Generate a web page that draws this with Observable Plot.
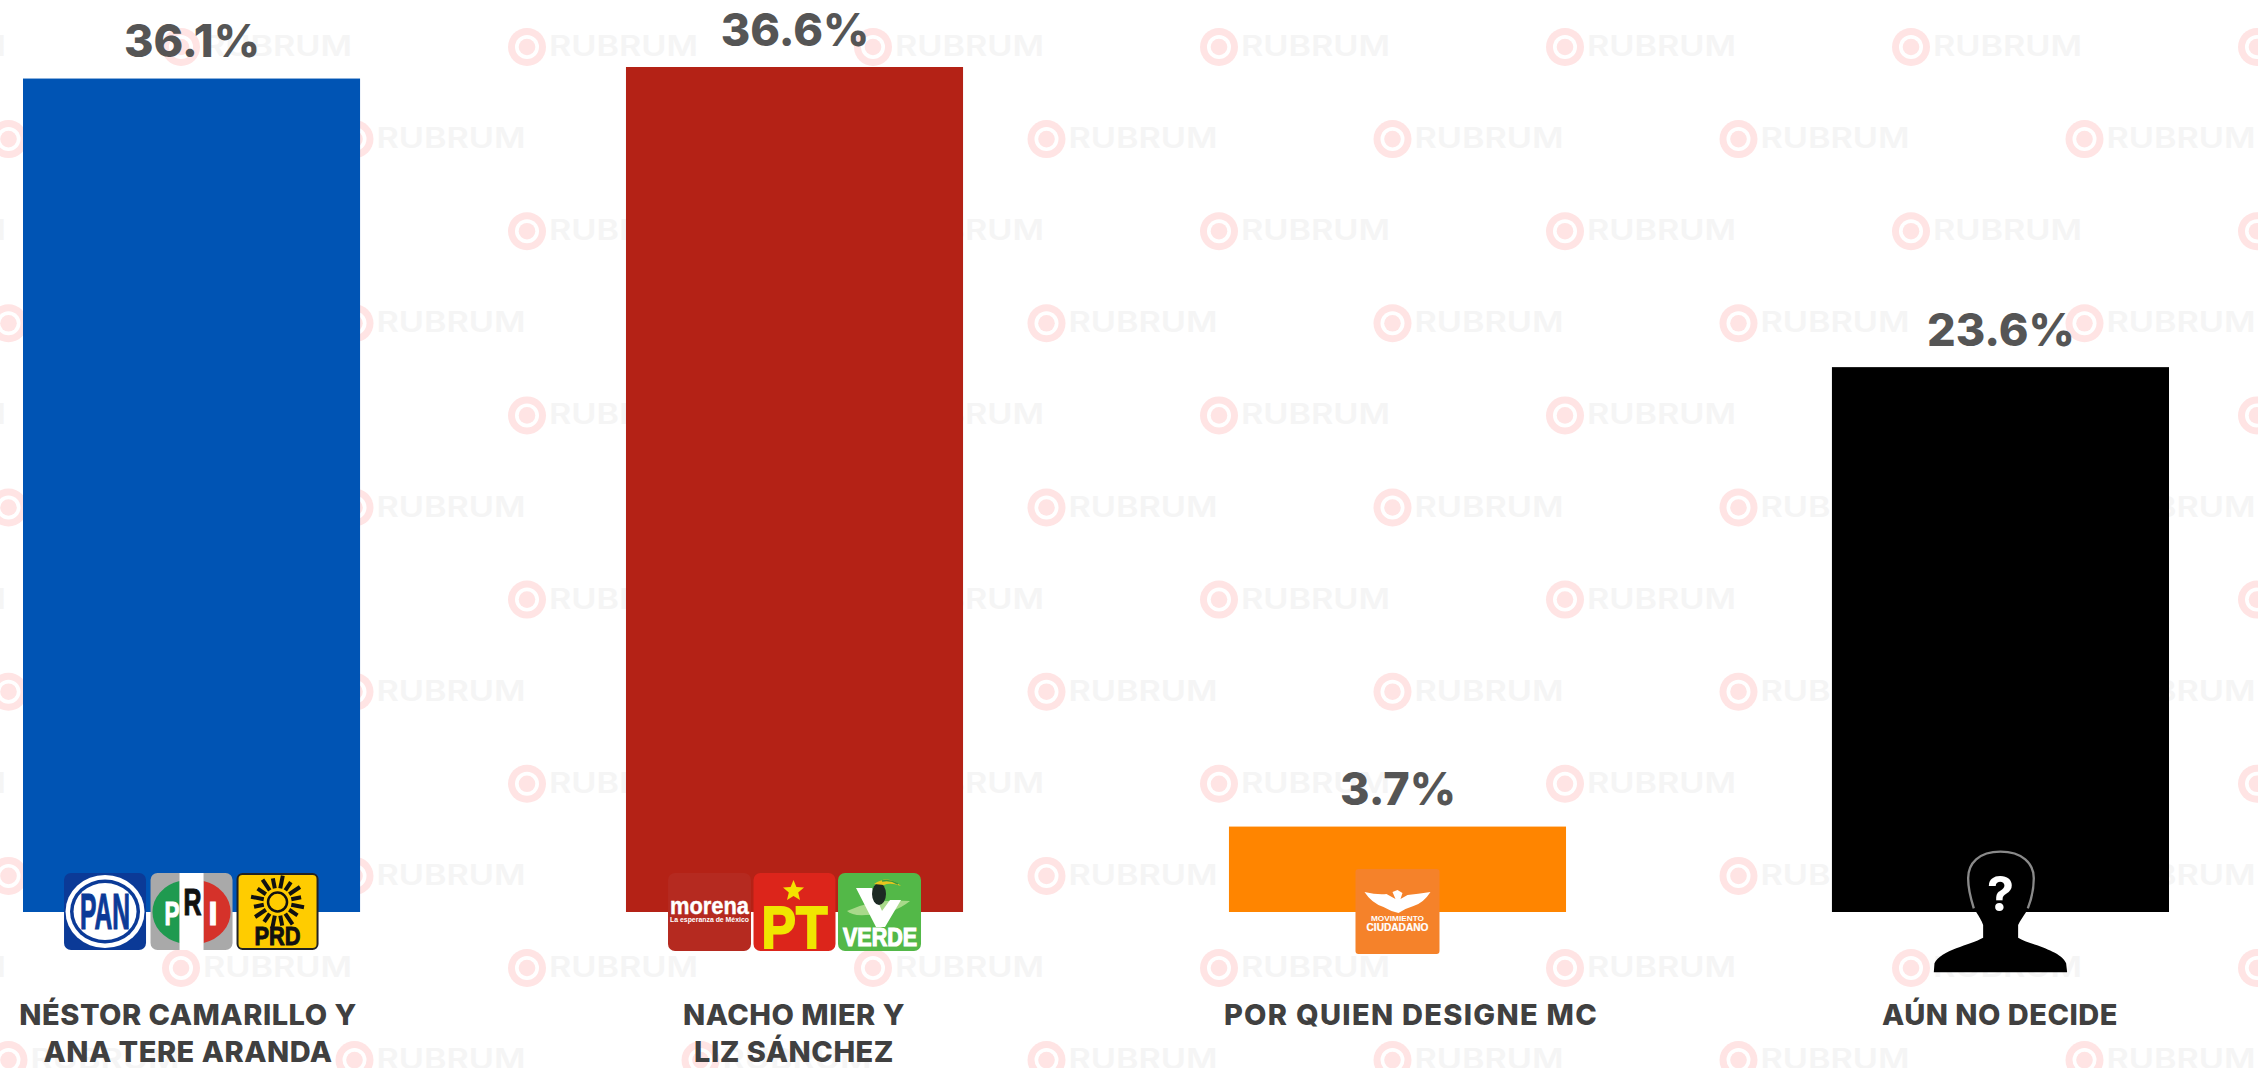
<!DOCTYPE html>
<html>
<head>
<meta charset="utf-8">
<style>html,body{margin:0;padding:0;background:#fff;overflow:hidden}svg{display:block}</style>
<script src="https://cdn.jsdelivr.net/npm/d3@7"></script>
<script src="https://cdn.jsdelivr.net/npm/@observablehq/plot@0.6"></script>
</head>
<body>
<div id="chart"></div>
<script>
const categories = ["NÉSTOR CAMARILLO Y\nANA TERE ARANDA", "NACHO MIER Y\nLIZ SÁNCHEZ", "POR QUIEN DESIGNE MC", "AÚN NO DECIDE"];
const values = [36.1, 36.6, 3.7, 23.6];
const valueLabels = ["36.1%", "36.6%", "3.7%", "23.6%"];
const colors = ["#0054b4", "#b42216", "#ff8500", "#000000"];
const logoSets = [["PAN", "PRI", "PRD"], ["morena", "PT", "VERDE"], ["MC"], ["unknown"]];
const watermarkText = "RUBRUM";
const table = categories.map((c, i) => ({category: c, value: values[i], label: valueLabels[i], color: colors[i]}));

const FONT = "Inter, Lato, sans-serif";
const NARROW = "'Liberation Sans', sans-serif";
const SVGNS = "http://www.w3.org/2000/svg";

function watermark(index, scales, values, dim) {
  const g = document.createElementNS(SVGNS, "g");
  let html = "";
  for (let k = 0; k < 12; k++) {
    const y = 47 + k * 92.1;
    const start = k % 2 ? 8.5 : -165;
    for (let n = 0; n < 8; n++) {
      const x = start + n * 346;
      html += `<circle cx="${x}" cy="${y}" r="19" fill="#ffe4e4"/><circle cx="${x}" cy="${y}" r="12" fill="#fff"/><circle cx="${x}" cy="${y}" r="8.3" fill="#ffe4e4"/>`;
      html += `<text x="${x + 22}" y="${y + 9}" text-anchor="start" font-family="${FONT}" font-weight="600" font-size="28" fill="#f5f5f5" textLength="149" lengthAdjust="spacingAndGlyphs">${watermarkText}</text>`;
    }
  }
  g.innerHTML = html;
  return g;
}

const t = (s, x, y, size, fill, len, bold = 0.8) =>
  `<text x="${x}" y="${y}" text-anchor="start" font-family="${NARROW}" font-weight="700" font-size="${size}" fill="${fill}" stroke="${fill}" stroke-width="${bold}" textLength="${len}" lengthAdjust="spacingAndGlyphs">${s}</text>`;

const logoDraw = {
  PAN: () => `<rect width="82" height="77" rx="7" fill="#0b3a97"/>
    <ellipse cx="41" cy="38.5" rx="39.5" ry="36.5" fill="#fff"/>
    <ellipse cx="41" cy="38.5" rx="35" ry="32" fill="#0b3a97"/>
    <ellipse cx="41" cy="38.5" rx="31.5" ry="28.5" fill="#fff"/>
    ${t("PAN", 16, 56, 50, "#0b3a97", 50, 1.2)}`,
  PRI: () => `<rect width="82" height="77" rx="7" fill="#a9a9a9"/>
    <path d="M29,8 A36,32 0 0 0 29,70 Z" fill="#1f9a50"/>
    <path d="M53,8 A36,32 0 0 1 53,70 Z" fill="#d5322a"/>
    <rect x="29" width="24" height="77" fill="#fff"/>
    ${t("P", 14, 52, 34, "#fff", 15, 1.2)}
    ${t("R", 33, 42, 37, "#111", 18, 1.2)}
    ${t("I", 58, 52, 34, "#fff", 9, 1.2)}`,
  PRD: () => {
    let rays = "";
    for (let i = 0; i < 16; i++) {
      const a = i * Math.PI / 8 + Math.PI / 16;
      const r = i % 2 ? 24 : 27;
      rays += `<line x1="${41 + 14 * Math.cos(a)}" y1="${29 + 14 * Math.sin(a)}" x2="${41 + r * Math.cos(a)}" y2="${29 + r * Math.sin(a)}" stroke="#111" stroke-width="4"/>`;
    }
    return `<rect x="1" y="1" width="80" height="75" rx="5" fill="#ffcc00" stroke="#222" stroke-width="2"/>
    ${rays}<circle cx="41" cy="29" r="9.5" fill="none" stroke="#111" stroke-width="2.5"/>
    ${t("PRD", 18, 72, 25, "#111", 46, 1)}`;
  },
  morena: () => `<rect width="83" height="78" rx="7" fill="#b52a20"/>
    ${t("morena", 2, 41, 24, "#fff", 79, 0.4)}
    ${t("La esperanza de México", 2, 48.5, 7, "#fff", 79, 0)}`,
  PT: () => `<rect width="82" height="78" rx="7" fill="#dc251b"/>
    <polygon points="40,7 42.9,14 50.5,14.5 44.7,19.4 46.5,27 40,23 33.5,27 35.3,19.4 29.5,14.5 37.1,14" fill="#f4e200"/>
    ${t("PT", 8, 75, 60, "#f0e600", 66, 2)}`,
  VERDE: () => `<rect width="83" height="78" rx="7" fill="#53b848"/>
    <path d="M9,38 Q35,25 72,28 Q55,42 28,42 Q14,43 9,38 Z" fill="#a8d98a"/>
    <polygon points="18,15 34,15 44,38 52,27 63,27 47,54 38,54" fill="#fff"/>
    <ellipse cx="41" cy="21" rx="7" ry="11" fill="#1d2a24"/>
    <path d="M36,11 Q50,1 63,13 Q52,9 46,12 Z" fill="#e8c51e"/>
    <path d="M44,8 Q52,6 60,11" fill="none" stroke="#3b9a3b" stroke-width="1.5"/>
    ${t("VERDE", 5, 73, 25, "#fff", 74, 1.2)}`,
  MC: () => `<rect width="84" height="85" rx="3" fill="#f5822a"/>
    <path d="M9,23 Q22,26 31,25 L40,30 L37,23 L42,21 L47,24 L45,30 L52,26 Q62,25 75,23 Q68,34 58,37 L50,40 L43,44 L36,42 L28,38 Q16,34 9,23 Z" fill="#fff"/>
    ${t("MOVIMIENTO", 15.5, 52, 7, "#fff", 53, 0)}
    ${t("CIUDADANO", 11, 62, 10, "#fff", 62, 0.2)}`
};
const logoBox = {
  PAN: [-127.5, -39], PRI: [-41, -39], PRD: [45, -39],
  morena: [-126.5, -39], PT: [-41, -39], VERDE: [43.5, -39],
  MC: [-42, -43]
};

function logos(index, scales) {
  const g = document.createElementNS(SVGNS, "g");
  let html = "";
  const bw = typeof scales.x.bandwidth === "function" ? scales.x.bandwidth() : scales.x.bandwidth;
  categories.forEach((c, i) => {
    const cx = scales.x(c) + bw / 2;
    const y0 = scales.y(0);
    logoSets[i].forEach(name => {
      if (name === "unknown") {
        html += `<g transform="translate(${cx},${y0}) scale(0.3333) translate(-240,-201)">
          <path d="M240,20 C175,20 143,55 143,100 C143,130 152,150 152,165 C155,190 180,215 188,240 L188,278 C150,300 60,315 42,355 L40,382 L440,382 L437,355 C420,315 330,300 293,278 L293,240 C305,215 330,190 330,165 C332,150 340,130 340,100 C340,55 305,20 240,20 Z" fill="#000"/>
          <path d="M160,190 C152,165 143,130 143,100 C143,55 175,20 240,20 C305,20 340,55 340,100 C340,130 332,165 322,190" fill="none" stroke="#8a8a8a" stroke-width="7"/>
          <text x="240" y="197" text-anchor="middle" font-family="${FONT}" font-weight="700" font-size="145" fill="#fff">?</text>
        </g>`;
      } else {
        const [dx, dy] = logoBox[name];
        html += `<g transform="translate(${cx + dx},${y0 + dy})">${logoDraw[name]()}</g>`;
      }
    });
  });
  g.innerHTML = html;
  return g;
}

const plot = Plot.plot({
  width: 2258,
  height: 1068,
  marginTop: 67,
  marginBottom: 156,
  marginLeft: 23,
  marginRight: 89,
  style: {background: "#fff", fontFamily: FONT},
  x: {domain: categories, paddingInner: 0.441, paddingOuter: 0, round: false, label: null},
  y: {domain: [0, 36.6], axis: null},
  marks: [
    watermark,
    Plot.barY(table, {x: "category", y: "value", fill: "color"}),
    logos,
    Plot.text(table, {x: "category", y: "value", text: "label", lineAnchor: "bottom", dy: -22, fontSize: 45, fontWeight: 800, fill: "#555555", fontFamily: FONT}),
    Plot.axisX({anchor: "bottom", tickSize: 0, tickPadding: 87, fontSize: 29, fontWeight: 800, fill: "#404040", lineHeight: 1.26, fontFamily: FONT, label: null})
  ]
});
const tickNudge = [-4, -1, 13, -1];
plot.querySelectorAll('[aria-label="x-axis tick label"]').forEach(n => {
  n.style.letterSpacing = "0.5px";
  n.querySelectorAll("text").forEach((txt, i) => {
    txt.setAttribute("transform", `translate(${tickNudge[i]},0) ${txt.getAttribute("transform") || ""}`);
    if (i === 2) txt.style.letterSpacing = "1.3px";
  });
});
document.getElementById("chart").append(plot);
</script>
</body>
</html>
